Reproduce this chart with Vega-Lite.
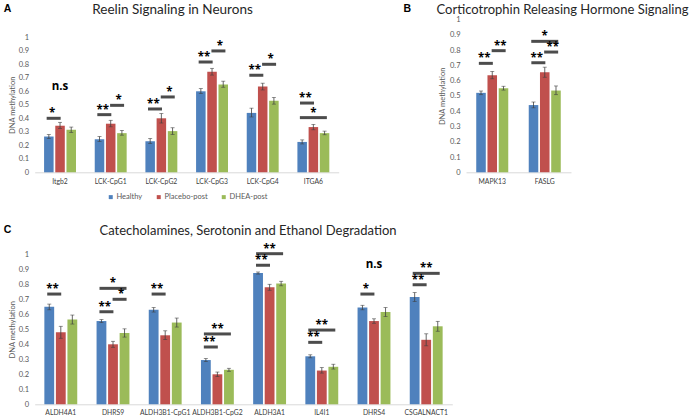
{
  "$schema": "https://vega.github.io/schema/vega-lite/v6.json",
  "width": 700,
  "height": 419,
  "autosize": "none",
  "padding": 0,
  "background": "white",
  "config": {
    "view": {"stroke": null},
    "axis": {"grid": false, "labelFont": "Lato", "labelFontSize": 7.5, "labelColor": "#595959", "titleFont": "Lato", "titleFontSize": 7.5, "titleColor": "#595959", "titleFontWeight": "normal"},
    "axisX": {"labelFontSize": 6.8, "labelOverlap": false},
    "legend": {"labelFont": "Lato", "labelFontSize": 7.5, "labelColor": "#595959"},
    "text": {"font": "Open Sans", "fontWeight": "bold", "fontSize": 11.5, "baseline": "alphabetic", "align": "center", "color": "black", "dy": -1}
  },
  "datasets": {
    "barsA": [
      {"gene": "Itgb2", "group": "Healthy", "value": 0.265, "lo": 0.25, "hi": 0.28},
      {"gene": "Itgb2", "group": "Placebo-post", "value": 0.345, "lo": 0.325, "hi": 0.37},
      {"gene": "Itgb2", "group": "DHEA-post", "value": 0.315, "lo": 0.295, "hi": 0.335},
      {"gene": "LCK-CpG1", "group": "Healthy", "value": 0.245, "lo": 0.228, "hi": 0.265},
      {"gene": "LCK-CpG1", "group": "Placebo-post", "value": 0.36, "lo": 0.337, "hi": 0.385},
      {"gene": "LCK-CpG1", "group": "DHEA-post", "value": 0.29, "lo": 0.275, "hi": 0.31},
      {"gene": "LCK-CpG2", "group": "Healthy", "value": 0.23, "lo": 0.213, "hi": 0.25},
      {"gene": "LCK-CpG2", "group": "Placebo-post", "value": 0.4, "lo": 0.365, "hi": 0.435},
      {"gene": "LCK-CpG2", "group": "DHEA-post", "value": 0.305, "lo": 0.28, "hi": 0.33},
      {"gene": "LCK-CpG3", "group": "Healthy", "value": 0.6, "lo": 0.583, "hi": 0.62},
      {"gene": "LCK-CpG3", "group": "Placebo-post", "value": 0.745, "lo": 0.72, "hi": 0.77},
      {"gene": "LCK-CpG3", "group": "DHEA-post", "value": 0.65, "lo": 0.63, "hi": 0.675},
      {"gene": "LCK-CpG4", "group": "Healthy", "value": 0.44, "lo": 0.41, "hi": 0.475},
      {"gene": "LCK-CpG4", "group": "Placebo-post", "value": 0.635, "lo": 0.61, "hi": 0.66},
      {"gene": "LCK-CpG4", "group": "DHEA-post", "value": 0.53, "lo": 0.505, "hi": 0.555},
      {"gene": "ITGA6", "group": "Healthy", "value": 0.225, "lo": 0.21, "hi": 0.24},
      {"gene": "ITGA6", "group": "Placebo-post", "value": 0.335, "lo": 0.315, "hi": 0.355},
      {"gene": "ITGA6", "group": "DHEA-post", "value": 0.29, "lo": 0.278, "hi": 0.305}
    ],
    "barsB": [
      {"gene": "MAPK13", "group": "Healthy", "value": 0.52, "lo": 0.508, "hi": 0.532},
      {"gene": "MAPK13", "group": "Placebo-post", "value": 0.635, "lo": 0.612, "hi": 0.66},
      {"gene": "MAPK13", "group": "DHEA-post", "value": 0.55, "lo": 0.538, "hi": 0.563},
      {"gene": "FASLG", "group": "Healthy", "value": 0.44, "lo": 0.422, "hi": 0.46},
      {"gene": "FASLG", "group": "Placebo-post", "value": 0.655, "lo": 0.622, "hi": 0.688},
      {"gene": "FASLG", "group": "DHEA-post", "value": 0.535, "lo": 0.508, "hi": 0.565}
    ],
    "barsC": [
      {"gene": "ALDH4A1", "group": "Healthy", "value": 0.65, "lo": 0.63, "hi": 0.668},
      {"gene": "ALDH4A1", "group": "Placebo-post", "value": 0.48, "lo": 0.44, "hi": 0.52},
      {"gene": "ALDH4A1", "group": "DHEA-post", "value": 0.565, "lo": 0.535, "hi": 0.595},
      {"gene": "DHRS9", "group": "Healthy", "value": 0.555, "lo": 0.545, "hi": 0.565},
      {"gene": "DHRS9", "group": "Placebo-post", "value": 0.4, "lo": 0.38, "hi": 0.42},
      {"gene": "DHRS9", "group": "DHEA-post", "value": 0.475, "lo": 0.448, "hi": 0.503},
      {"gene": "ALDH3B1-CpG1", "group": "Healthy", "value": 0.63, "lo": 0.615, "hi": 0.645},
      {"gene": "ALDH3B1-CpG1", "group": "Placebo-post", "value": 0.46, "lo": 0.432, "hi": 0.49},
      {"gene": "ALDH3B1-CpG1", "group": "DHEA-post", "value": 0.545, "lo": 0.515, "hi": 0.575},
      {"gene": "ALDH3B1-CpG2", "group": "Healthy", "value": 0.295, "lo": 0.285, "hi": 0.305},
      {"gene": "ALDH3B1-CpG2", "group": "Placebo-post", "value": 0.2, "lo": 0.185, "hi": 0.215},
      {"gene": "ALDH3B1-CpG2", "group": "DHEA-post", "value": 0.23, "lo": 0.22, "hi": 0.24},
      {"gene": "ALDH3A1", "group": "Healthy", "value": 0.875, "lo": 0.868, "hi": 0.882},
      {"gene": "ALDH3A1", "group": "Placebo-post", "value": 0.78, "lo": 0.76, "hi": 0.8},
      {"gene": "ALDH3A1", "group": "DHEA-post", "value": 0.805, "lo": 0.79, "hi": 0.82},
      {"gene": "IL4I1", "group": "Healthy", "value": 0.32, "lo": 0.31, "hi": 0.33},
      {"gene": "IL4I1", "group": "Placebo-post", "value": 0.225, "lo": 0.208, "hi": 0.245},
      {"gene": "IL4I1", "group": "DHEA-post", "value": 0.25, "lo": 0.235, "hi": 0.267},
      {"gene": "DHRS4", "group": "Healthy", "value": 0.645, "lo": 0.63, "hi": 0.66},
      {"gene": "DHRS4", "group": "Placebo-post", "value": 0.555, "lo": 0.54, "hi": 0.57},
      {"gene": "DHRS4", "group": "DHEA-post", "value": 0.615, "lo": 0.585, "hi": 0.645},
      {"gene": "CSGALNACT1", "group": "Healthy", "value": 0.715, "lo": 0.685, "hi": 0.745},
      {"gene": "CSGALNACT1", "group": "Placebo-post", "value": 0.43, "lo": 0.39, "hi": 0.47},
      {"gene": "CSGALNACT1", "group": "DHEA-post", "value": 0.52, "lo": 0.487, "hi": 0.553}
    ],
    "sigA": [
      {"gene": "Itgb2", "pair": "HP", "level": 0.4, "label": "*"},
      {"gene": "Itgb2", "pair": "HD", "level": 0.6, "label": "n.s"},
      {"gene": "LCK-CpG1", "pair": "HP", "level": 0.427, "label": "**"},
      {"gene": "LCK-CpG1", "pair": "PD", "level": 0.496, "label": "*"},
      {"gene": "LCK-CpG2", "pair": "HP", "level": 0.469, "label": "**"},
      {"gene": "LCK-CpG2", "pair": "PD", "level": 0.558, "label": "*"},
      {"gene": "LCK-CpG3", "pair": "HP", "level": 0.817, "label": "**"},
      {"gene": "LCK-CpG3", "pair": "PD", "level": 0.899, "label": "*"},
      {"gene": "LCK-CpG4", "pair": "HP", "level": 0.719, "label": "**"},
      {"gene": "LCK-CpG4", "pair": "PD", "level": 0.8, "label": "*"},
      {"gene": "ITGA6", "pair": "HP", "level": 0.513, "label": "**"},
      {"gene": "ITGA6", "pair": "HD", "level": 0.405, "label": "*"}
    ],
    "sigB": [
      {"gene": "MAPK13", "pair": "HP", "level": 0.713, "label": "**"},
      {"gene": "MAPK13", "pair": "PD", "level": 0.796, "label": "**"},
      {"gene": "FASLG", "pair": "HP", "level": 0.717, "label": "**"},
      {"gene": "FASLG", "pair": "PD", "level": 0.787, "label": "**"},
      {"gene": "FASLG", "pair": "HD", "level": 0.857, "label": "*"}
    ],
    "sigC": [
      {"gene": "ALDH4A1", "pair": "HP", "level": 0.735, "label": "**"},
      {"gene": "DHRS9", "pair": "HP", "level": 0.617, "label": "**"},
      {"gene": "DHRS9", "pair": "PD", "level": 0.7, "label": "*"},
      {"gene": "DHRS9", "pair": "HD", "level": 0.773, "label": "*"},
      {"gene": "ALDH3B1-CpG1", "pair": "HP", "level": 0.735, "label": "**"},
      {"gene": "ALDH3B1-CpG2", "pair": "HP", "level": 0.382, "label": "**"},
      {"gene": "ALDH3B1-CpG2", "pair": "HD", "level": 0.469, "label": "**"},
      {"gene": "ALDH3A1", "pair": "HP", "level": 0.927, "label": "**"},
      {"gene": "ALDH3A1", "pair": "HD", "level": 1.004, "label": "**"},
      {"gene": "IL4I1", "pair": "HP", "level": 0.413, "label": "**"},
      {"gene": "IL4I1", "pair": "HD", "level": 0.495, "label": "**"},
      {"gene": "DHRS4", "pair": "HP", "level": 0.735, "label": "*"},
      {"gene": "DHRS4", "pair": "HD", "level": 0.9, "label": "n.s"},
      {"gene": "CSGALNACT1", "pair": "HP", "level": 0.797, "label": "**"},
      {"gene": "CSGALNACT1", "pair": "HD", "level": 0.873, "label": "**"}
    ]
  },
  "layer": [
    {
      "layer": [
        {
          "data": {"name": "barsA"},
          "mark": {"type": "bar"},
          "encoding": {
            "x": {"field": "gene", "type": "nominal", "scale": {"domain": ["Itgb2", "LCK-CpG1", "LCK-CpG2", "LCK-CpG3", "LCK-CpG4", "ITGA6"], "range": [34.7, 338.7], "paddingInner": 0.37, "paddingOuter": 0.185},
              "axis": {"orient": "bottom", "offset": -246.7, "title": null, "labelAngle": 0, "ticks": false, "domainColor": "#D9D9D9", "labelPadding": 6, "labelColor": "#404040"}},
            "xOffset": {"field": "group", "type": "nominal", "scale": {"domain": ["Healthy", "Placebo-post", "DHEA-post"], "paddingInner": 0.15, "paddingOuter": 0}},
            "y": {"field": "value", "type": "quantitative", "scale": {"domain": [0, 1], "range": [172.3, 37.3], "nice": false},
              "axis": {"orient": "left", "offset": -34.7, "values": [0, 0.1, 0.2, 0.3, 0.4, 0.5, 0.6, 0.7, 0.8, 0.9, 1], "format": "~g", "title": "DNA methylation", "domain": false, "ticks": false, "labelPadding": 6, "titlePadding": 2}},
            "color": {"field": "group", "type": "nominal", "scale": {"domain": ["Healthy", "Placebo-post", "DHEA-post"], "range": ["#4F81BD", "#C0504D", "#9BBB59"]},
              "legend": {"orient": "none", "legendX": 107, "legendY": 193, "direction": "horizontal", "title": null, "symbolType": "square", "symbolSize": 16, "symbolStrokeWidth": 0, "labelOffset": 2, "columnPadding": 12, "padding": 0}}
          }
        },
        {
          "data": {"name": "barsA"},
          "mark": {"type": "rule", "color": "#404040", "strokeWidth": 0.8},
          "encoding": {
            "x": {"field": "gene", "type": "nominal", "axis": null},
            "xOffset": {"field": "group", "type": "nominal", "scale": {"domain": ["Healthy", "Placebo-post", "DHEA-post"], "paddingInner": 0.15, "paddingOuter": 0}},
            "y": {"field": "lo", "type": "quantitative", "axis": null},
            "y2": {"field": "hi"}
          }
        },
        {
          "data": {"name": "barsA"},
          "mark": {"type": "tick", "orient": "horizontal", "color": "#404040", "thickness": 0.8, "size": 4},
          "encoding": {
            "x": {"field": "gene", "type": "nominal", "axis": null},
            "xOffset": {"field": "group", "type": "nominal", "scale": {"domain": ["Healthy", "Placebo-post", "DHEA-post"], "paddingInner": 0.15, "paddingOuter": 0}},
            "y": {"field": "lo", "type": "quantitative", "axis": null}
          }
        },
        {
          "data": {"name": "barsA"},
          "mark": {"type": "tick", "orient": "horizontal", "color": "#404040", "thickness": 0.8, "size": 4},
          "encoding": {
            "x": {"field": "gene", "type": "nominal", "axis": null},
            "xOffset": {"field": "group", "type": "nominal", "scale": {"domain": ["Healthy", "Placebo-post", "DHEA-post"], "paddingInner": 0.15, "paddingOuter": 0}},
            "y": {"field": "hi", "type": "quantitative", "axis": null}
          }
        },
        {
          "data": {"name": "sigA"},
          "transform": [{"filter": "datum.label != 'n.s' && datum.pair != 'HD'"}],
          "mark": {"type": "tick", "orient": "horizontal", "color": "black", "thickness": 3, "size": 14},
          "encoding": {
            "x": {"field": "gene", "type": "nominal",
              "axis": {"orient": "top", "offset": -37.3, "labels": false, "ticks": false, "domain": false, "title": "Reelin Signaling in Neurons", "titleX": 172, "titleY": -24, "titleAlign": "center", "titleBaseline": "alphabetic", "titleFontSize": 13.5, "titleColor": "#262626"}},
            "xOffset": {"field": "pair", "type": "nominal", "scale": {"domain": ["HP", "HD", "PD"], "paddingInner": 0, "paddingOuter": 1.35}},
            "y": {"field": "level", "type": "quantitative",
              "axis": {"orient": "left", "offset": -34.7, "labels": false, "ticks": false, "domain": false, "title": "A", "titleAngle": 0, "titleX": -31.4, "titleY": 11, "titleAlign": "left", "titleBaseline": "alphabetic", "titleFont": "Liberation Sans", "titleFontWeight": "bold", "titleFontSize": 10.5, "titleColor": "black"}}
          }
        },
        {
          "data": {"name": "sigA"},
          "transform": [{"filter": "datum.label != 'n.s' && datum.pair == 'HD'"}],
          "mark": {"type": "tick", "orient": "horizontal", "color": "black", "thickness": 3, "size": 27},
          "encoding": {
            "x": {"field": "gene", "type": "nominal", "axis": null},
            "xOffset": {"field": "pair", "type": "nominal", "scale": {"domain": ["HP", "HD", "PD"], "paddingInner": 0, "paddingOuter": 1.35}},
            "y": {"field": "level", "type": "quantitative", "axis": null}
          }
        },
        {
          "data": {"name": "sigA"},
          "mark": {"type": "text"},
          "encoding": {
            "x": {"field": "gene", "type": "nominal", "axis": null},
            "xOffset": {"field": "pair", "type": "nominal", "scale": {"domain": ["HP", "HD", "PD"], "paddingInner": 0, "paddingOuter": 1.35}},
            "y": {"field": "level", "type": "quantitative", "axis": null},
            "text": {"field": "label"}
          }
        }
      ],
      "resolve": {"scale": {"xOffset": "independent"}, "axis": {"x": "independent", "y": "independent"}}
    },
    {
      "layer": [
        {
          "data": {"name": "barsB"},
          "mark": {"type": "bar"},
          "encoding": {
            "x": {"field": "gene", "type": "nominal", "scale": {"domain": ["MAPK13", "FASLG"], "range": [466, 571], "paddingInner": 0.39, "paddingOuter": 0.195},
              "axis": {"orient": "bottom", "offset": -246.7, "title": null, "labelAngle": 0, "ticks": false, "domainColor": "#D9D9D9", "labelPadding": 6, "labelColor": "#404040"}},
            "xOffset": {"field": "group", "type": "nominal", "scale": {"domain": ["Healthy", "Placebo-post", "DHEA-post"], "paddingInner": 0.15, "paddingOuter": 0}},
            "y": {"field": "value", "type": "quantitative", "scale": {"domain": [0, 1], "range": [172.3, 19.5], "nice": false},
              "axis": {"orient": "left", "offset": -466, "values": [0, 0.1, 0.2, 0.3, 0.4, 0.5, 0.6, 0.7, 0.8, 0.9, 1], "format": "~g", "title": "DNA methylation", "domain": false, "ticks": false, "labelPadding": 6, "titlePadding": 3}},
            "color": {"field": "group", "type": "nominal", "scale": {"domain": ["Healthy", "Placebo-post", "DHEA-post"], "range": ["#4F81BD", "#C0504D", "#9BBB59"]},
              "legend": {"orient": "none", "legendX": 107, "legendY": 193, "direction": "horizontal", "title": null, "symbolType": "square", "symbolSize": 16, "symbolStrokeWidth": 0, "labelOffset": 2, "columnPadding": 12, "padding": 0}}
          }
        },
        {
          "data": {"name": "barsB"},
          "mark": {"type": "rule", "color": "#404040", "strokeWidth": 0.8},
          "encoding": {
            "x": {"field": "gene", "type": "nominal", "axis": null},
            "xOffset": {"field": "group", "type": "nominal", "scale": {"domain": ["Healthy", "Placebo-post", "DHEA-post"], "paddingInner": 0.15, "paddingOuter": 0}},
            "y": {"field": "lo", "type": "quantitative", "axis": null},
            "y2": {"field": "hi"}
          }
        },
        {
          "data": {"name": "barsB"},
          "mark": {"type": "tick", "orient": "horizontal", "color": "#404040", "thickness": 0.8, "size": 4},
          "encoding": {
            "x": {"field": "gene", "type": "nominal", "axis": null},
            "xOffset": {"field": "group", "type": "nominal", "scale": {"domain": ["Healthy", "Placebo-post", "DHEA-post"], "paddingInner": 0.15, "paddingOuter": 0}},
            "y": {"field": "lo", "type": "quantitative", "axis": null}
          }
        },
        {
          "data": {"name": "barsB"},
          "mark": {"type": "tick", "orient": "horizontal", "color": "#404040", "thickness": 0.8, "size": 4},
          "encoding": {
            "x": {"field": "gene", "type": "nominal", "axis": null},
            "xOffset": {"field": "group", "type": "nominal", "scale": {"domain": ["Healthy", "Placebo-post", "DHEA-post"], "paddingInner": 0.15, "paddingOuter": 0}},
            "y": {"field": "hi", "type": "quantitative", "axis": null}
          }
        },
        {
          "data": {"name": "sigB"},
          "transform": [{"filter": "datum.pair != 'HD'"}],
          "mark": {"type": "tick", "orient": "horizontal", "color": "black", "thickness": 3, "size": 14},
          "encoding": {
            "x": {"field": "gene", "type": "nominal",
              "axis": {"orient": "top", "offset": -19.5, "labels": false, "ticks": false, "domain": false, "title": "Corticotrophin Releasing Hormone Signaling", "titleX": 562, "titleY": -6.5, "titleAlign": "center", "titleBaseline": "alphabetic", "titleFontSize": 13, "titleColor": "#262626"}},
            "xOffset": {"field": "pair", "type": "nominal", "scale": {"domain": ["HP", "HD", "PD"], "paddingInner": 0, "paddingOuter": 1.35}},
            "y": {"field": "level", "type": "quantitative",
              "axis": {"orient": "left", "offset": -466, "labels": false, "ticks": false, "domain": false, "title": "B", "titleAngle": 0, "titleX": -63, "titleY": 11, "titleAlign": "left", "titleBaseline": "alphabetic", "titleFont": "Liberation Sans", "titleFontWeight": "bold", "titleFontSize": 10.5, "titleColor": "black"}}
          }
        },
        {
          "data": {"name": "sigB"},
          "transform": [{"filter": "datum.pair == 'HD'"}],
          "mark": {"type": "tick", "orient": "horizontal", "color": "black", "thickness": 3, "size": 27},
          "encoding": {
            "x": {"field": "gene", "type": "nominal", "axis": null},
            "xOffset": {"field": "pair", "type": "nominal", "scale": {"domain": ["HP", "HD", "PD"], "paddingInner": 0, "paddingOuter": 1.35}},
            "y": {"field": "level", "type": "quantitative", "axis": null}
          }
        },
        {
          "data": {"name": "sigB"},
          "mark": {"type": "text"},
          "encoding": {
            "x": {"field": "gene", "type": "nominal", "axis": null},
            "xOffset": {"field": "pair", "type": "nominal", "scale": {"domain": ["HP", "HD", "PD"], "paddingInner": 0, "paddingOuter": 1.35}},
            "y": {"field": "level", "type": "quantitative", "axis": null},
            "text": {"field": "label"}
          }
        }
      ],
      "resolve": {"scale": {"xOffset": "independent"}, "axis": {"x": "independent", "y": "independent"}}
    },
    {
      "layer": [
        {
          "data": {"name": "barsC"},
          "mark": {"type": "bar"},
          "encoding": {
            "x": {"field": "gene", "type": "nominal", "scale": {"domain": ["ALDH4A1", "DHRS9", "ALDH3B1-CpG1", "ALDH3B1-CpG2", "ALDH3A1", "IL4I1", "DHRS4", "CSGALNACT1"], "range": [34.7, 452.3], "paddingInner": 0.37, "paddingOuter": 0.185},
              "axis": {"orient": "bottom", "offset": -14.7, "title": null, "labelAngle": 0, "ticks": false, "domainColor": "#D9D9D9", "labelPadding": 5, "labelColor": "#404040"}},
            "xOffset": {"field": "group", "type": "nominal", "scale": {"domain": ["Healthy", "Placebo-post", "DHEA-post"], "paddingInner": 0.15, "paddingOuter": 0}},
            "y": {"field": "value", "type": "quantitative", "scale": {"domain": [0, 1], "range": [404.3, 254.3], "nice": false},
              "axis": {"orient": "left", "offset": -34.7, "values": [0, 0.1, 0.2, 0.3, 0.4, 0.5, 0.6, 0.7, 0.8, 0.9, 1], "format": "~g", "title": "DNA methylation", "domain": false, "ticks": false, "labelPadding": 6, "titlePadding": 2}},
            "color": {"field": "group", "type": "nominal", "scale": {"domain": ["Healthy", "Placebo-post", "DHEA-post"], "range": ["#4F81BD", "#C0504D", "#9BBB59"]},
              "legend": {"orient": "none", "legendX": 107, "legendY": 193, "direction": "horizontal", "title": null, "symbolType": "square", "symbolSize": 16, "symbolStrokeWidth": 0, "labelOffset": 2, "columnPadding": 12, "padding": 0}}
          }
        },
        {
          "data": {"name": "barsC"},
          "mark": {"type": "rule", "color": "#404040", "strokeWidth": 0.8},
          "encoding": {
            "x": {"field": "gene", "type": "nominal", "axis": null},
            "xOffset": {"field": "group", "type": "nominal", "scale": {"domain": ["Healthy", "Placebo-post", "DHEA-post"], "paddingInner": 0.15, "paddingOuter": 0}},
            "y": {"field": "lo", "type": "quantitative", "axis": null},
            "y2": {"field": "hi"}
          }
        },
        {
          "data": {"name": "barsC"},
          "mark": {"type": "tick", "orient": "horizontal", "color": "#404040", "thickness": 0.8, "size": 4},
          "encoding": {
            "x": {"field": "gene", "type": "nominal", "axis": null},
            "xOffset": {"field": "group", "type": "nominal", "scale": {"domain": ["Healthy", "Placebo-post", "DHEA-post"], "paddingInner": 0.15, "paddingOuter": 0}},
            "y": {"field": "lo", "type": "quantitative", "axis": null}
          }
        },
        {
          "data": {"name": "barsC"},
          "mark": {"type": "tick", "orient": "horizontal", "color": "#404040", "thickness": 0.8, "size": 4},
          "encoding": {
            "x": {"field": "gene", "type": "nominal", "axis": null},
            "xOffset": {"field": "group", "type": "nominal", "scale": {"domain": ["Healthy", "Placebo-post", "DHEA-post"], "paddingInner": 0.15, "paddingOuter": 0}},
            "y": {"field": "hi", "type": "quantitative", "axis": null}
          }
        },
        {
          "data": {"name": "sigC"},
          "transform": [{"filter": "datum.label != 'n.s' && datum.pair != 'HD'"}],
          "mark": {"type": "tick", "orient": "horizontal", "color": "black", "thickness": 3, "size": 14},
          "encoding": {
            "x": {"field": "gene", "type": "nominal",
              "axis": {"orient": "top", "offset": -254.3, "labels": false, "ticks": false, "domain": false, "title": "Catecholamines, Serotonin and Ethanol Degradation", "titleX": 247.5, "titleY": -20, "titleAlign": "center", "titleBaseline": "alphabetic", "titleFontSize": 13, "titleColor": "#262626"}},
            "xOffset": {"field": "pair", "type": "nominal", "scale": {"domain": ["HP", "HD", "PD"], "paddingInner": 0, "paddingOuter": 1.35}},
            "y": {"field": "level", "type": "quantitative",
              "axis": {"orient": "left", "offset": -34.7, "labels": false, "ticks": false, "domain": false, "title": "C", "titleAngle": 0, "titleX": -31.4, "titleY": 232.7, "titleAlign": "left", "titleBaseline": "alphabetic", "titleFont": "Liberation Sans", "titleFontWeight": "bold", "titleFontSize": 10.5, "titleColor": "black"}}
          }
        },
        {
          "data": {"name": "sigC"},
          "transform": [{"filter": "datum.label != 'n.s' && datum.pair == 'HD'"}],
          "mark": {"type": "tick", "orient": "horizontal", "color": "black", "thickness": 3, "size": 27},
          "encoding": {
            "x": {"field": "gene", "type": "nominal", "axis": null},
            "xOffset": {"field": "pair", "type": "nominal", "scale": {"domain": ["HP", "HD", "PD"], "paddingInner": 0, "paddingOuter": 1.35}},
            "y": {"field": "level", "type": "quantitative", "axis": null}
          }
        },
        {
          "data": {"name": "sigC"},
          "mark": {"type": "text"},
          "encoding": {
            "x": {"field": "gene", "type": "nominal", "axis": null},
            "xOffset": {"field": "pair", "type": "nominal", "scale": {"domain": ["HP", "HD", "PD"], "paddingInner": 0, "paddingOuter": 1.35}},
            "y": {"field": "level", "type": "quantitative", "axis": null},
            "text": {"field": "label"}
          }
        }
      ],
      "resolve": {"scale": {"xOffset": "independent"}, "axis": {"x": "independent", "y": "independent"}}
    }
  ],
  "resolve": {"scale": {"x": "independent", "y": "independent", "xOffset": "independent"}, "axis": {"x": "independent", "y": "independent"}}
}
